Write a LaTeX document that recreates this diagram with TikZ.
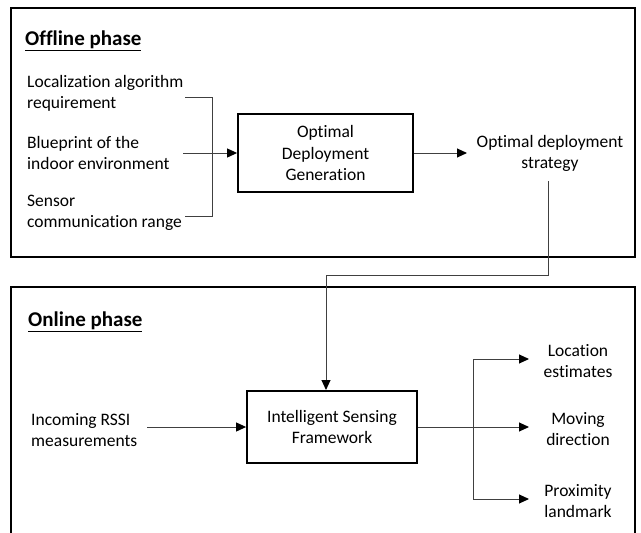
\documentclass[tikz,border=0pt]{standalone}
\usepackage{fontspec}
\setmainfont{Carlito}[Ligatures={NoCommon,NoRequired,NoContextual}]
\usetikzlibrary{arrows.meta}
\begin{document}
\begin{tikzpicture}[x=1pt,y=-1pt,
  panel/.style={draw=black,line width=2.4pt},
  procbox/.style={draw=black,line width=1.8pt,minimum width=#1,align=center,inner sep=0pt,font=\fontsize{17.5}{21.5}\selectfont},
  txt/.style={align=left,font=\fontsize{17.5}{21}\selectfont,inner sep=0pt},
  ctxt/.style={align=center,font=\fontsize{17.5}{21}\selectfont,inner sep=0pt},
  title/.style={anchor=west,font=\fontsize{21}{24}\selectfont\bfseries,inner sep=0pt},
  conn/.style={draw=black!75,line width=1pt},
  arr/.style={conn,-{Triangle[length=10pt,width=9pt,color=black]}}]
\useasboundingbox (0,0) rectangle (641,533);
\fill[white] (0,0) rectangle (641,533);

% panels
\draw[panel] (11,8) rectangle (635,257);
\draw[panel] (11,287) rectangle (635,560);

% offline phase
\node[title] (offt) at (25,41) {\underline{Offline phase}};
\node[txt,anchor=west] (req) at (27,93) {Localization algorithm\\requirement};
\node[txt,anchor=west] (blue) at (27,153) {Blueprint of the\\indoor environment};
\node[txt,anchor=west] (sens) at (27,213) {Sensor\\communication range};
\node[procbox=175pt,minimum height=78pt] (odg) at (325.5,153) {Optimal\\Deployment\\Generation};
\node[ctxt] (ods) at (550,153) {Optimal deployment\\strategy};

\coordinate (bt) at (212,97);
\coordinate (bb) at (212,216);
\draw[conn] (185,97) -- (bt) -- (bb) -- (185,216);
\draw[arr] (183,153) -- (odg.west);
\coordinate (odsin) at (467,153);
\draw[arr] (odg.east) -- (odsin);

% online phase
\node[title] (ont) at (28,322) {\underline{Online phase}};
\node[txt,anchor=west] (rssi) at (31,430) {Incoming RSSI\\measurements};
\node[procbox=170pt,minimum height=72pt] (isf) at (332,427) {Intelligent Sensing\\Framework};
\node[ctxt] (loc) at (578,361) {Location\\estimates};
\node[ctxt] (mov) at (578,429) {Moving\\direction};
\node[ctxt] (prox) at (578,501) {Proximity\\landmark};

% strategy feeds the online framework
\draw[arr] (548,181) -- (548,275) -- (326,275) -- (326,390);

\draw[arr] (147,427) -- (isf.west);
\coordinate (jn) at (473,427);
\draw[conn] (isf.east) -- (jn);
\draw[arr] (jn) |- (529,359);
\draw[arr] (jn) -- (529,427);
\draw[arr] (jn) |- (529,499);
\end{tikzpicture}
\end{document}
